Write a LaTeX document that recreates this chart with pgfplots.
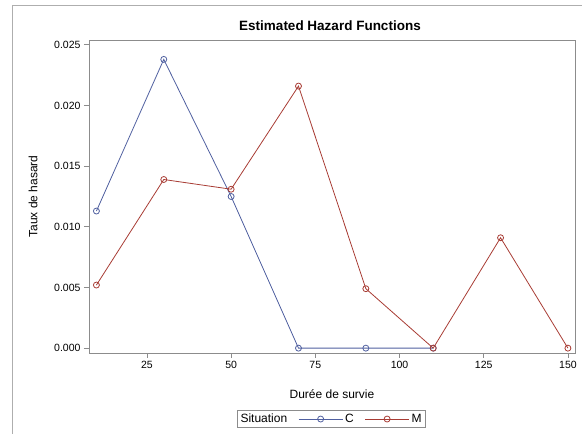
\documentclass[border=0pt]{standalone}
\usepackage{fontspec}
\setmainfont{Liberation Sans}
\usepackage{pgfplots}
\pgfplotsset{compat=1.18}
\definecolor{sasblue}{RGB}{80,96,160}
\definecolor{sasred}{RGB}{168,60,52}
\definecolor{axgray}{RGB}{140,140,140}

\begin{document}
\begin{tikzpicture}[x=1pt,y=1pt]
\useasboundingbox (0,0) rectangle (582,434);
% outer frame (only top and left edges are visible)
\draw[axgray!70, line width=1pt] (12,0) -- (12,428) -- (582,428);
\node[font=\bfseries\fontsize{13.5}{15}\selectfont] at (330,408) {Estimated Hazard Functions};
\begin{axis}[
    at={(89pt,81pt)}, anchor=south west,
    scale only axis,
    width=486pt, height=313pt,
    xmin=7.8, xmax=152.1,
    ymin=-0.0004, ymax=0.0254,
    xtick={25,50,75,100,125,150},
    ytick={0,0.005,0.010,0.015,0.020,0.025},
    scaled y ticks=false,
    yticklabel style={/pgf/number format/.cd, fixed, fixed zerofill, precision=3, assume math mode=true},
    xticklabel style={/pgf/number format/assume math mode=true},
    ticklabel style={font=\fontsize{10.5}{12}\selectfont},
    tick align=outside,
    tick pos=left,
    major tick length=5pt,
    tick style={axgray, line width=0.8pt},
    axis line style={axgray, line width=0.8pt},
    xlabel={Durée de survie},
    ylabel={Taux de hasard},
    every axis x label/.style={at={(axis description cs:0.5,-0.131)}, anchor=center, font=\fontsize{12}{14}\selectfont},
    every axis y label/.style={at={(axis description cs:-0.115,0.5)}, rotate=90, anchor=center, font=\fontsize{12}{14}\selectfont},
    legend columns=3,
    legend style={at={(axis description cs:0.498,-0.211)}, anchor=center,
        draw=axgray, line width=0.6pt, font=\fontsize{12}{14}\selectfont,
        inner sep=1.5pt, /tikz/every even column/.append style={column sep=9pt}},
    legend image code/.code={\draw[mark repeat=2,mark phase=2,#1] plot coordinates {(0pt,0pt)(22pt,0pt)(44pt,0pt)};},
]
\addlegendimage{empty legend}
\addlegendentry{Situation}
\addplot[sasblue, line width=0.8pt, mark=o, mark size=3pt] coordinates {
(10,0.0113) (30,0.0238) (50,0.0125) (70,0) (90,0) (110,0)};
\addlegendentry{C}
\addplot[sasred, line width=0.8pt, mark=o, mark size=3pt] coordinates {
(10,0.0052) (30,0.0139) (50,0.0131) (70,0.0216) (90,0.0049) (110,0) (130,0.0091) (150,0)};
\addlegendentry{M}
\end{axis}
\end{tikzpicture}
\end{document}
